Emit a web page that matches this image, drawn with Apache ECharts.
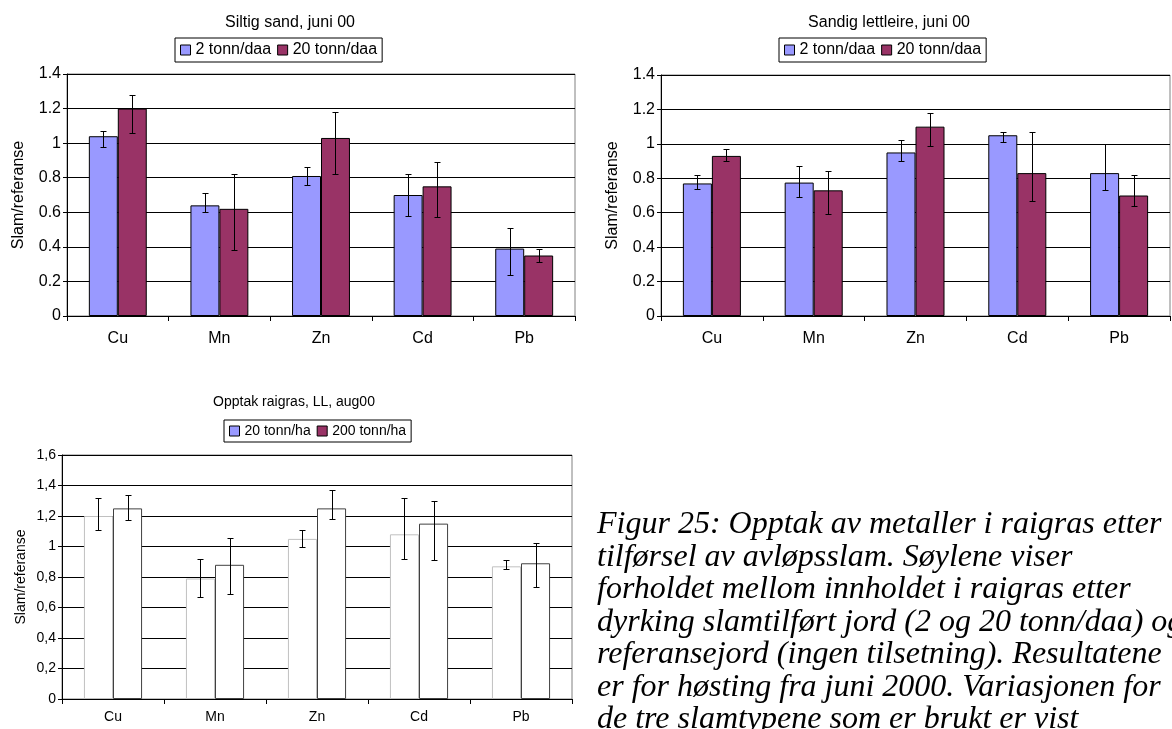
<!DOCTYPE html>
<html><head><meta charset="utf-8">
<script src="https://cdn.jsdelivr.net/npm/echarts/dist/echarts.min.js"></script>
<style>html,body{margin:0;padding:0;background:#fff}#c{width:1172px;height:729px}</style>
</head><body><div id="c"></div><script>
// ---------- data ----------
const categories = ['Cu', 'Mn', 'Zn', 'Cd', 'Pb'];

// Siltig sand, juni 00
const siltNames = ['2 tonn/daa', '20 tonn/daa'];
const silt2 = [1.04, 0.64, 0.81, 0.70, 0.39];
const silt2Lo = [0.98, 0.60, 0.76, 0.58, 0.24];
const silt2Hi = [1.07, 0.71, 0.86, 0.82, 0.51];
const silt20 = [1.20, 0.62, 1.03, 0.75, 0.35];
const silt20Lo = [1.06, 0.38, 0.82, 0.57, 0.31];
const silt20Hi = [1.28, 0.82, 1.18, 0.89, 0.39];

// Sandig lettleire, juni 00
const sand2 = [0.77, 0.775, 0.95, 1.05, 0.83];
const sand2Lo = [0.74, 0.69, 0.90, 1.01, 0.73];
const sand2Hi = [0.82, 0.87, 1.02, 1.07, 1.00];
const sand20 = [0.93, 0.73, 1.10, 0.83, 0.70];
const sand20Lo = [0.90, 0.59, 0.99, 0.67, 0.64];
const sand20Hi = [0.97, 0.84, 1.18, 1.07, 0.82];

// Opptak raigras, LL, aug00
const raiNames = ['20 tonn/ha', '200 tonn/ha'];
const rai20 = [1.20, 0.79, 1.05, 1.08, 0.87];
const rai20Lo = [1.11, 0.67, 1.00, 0.92, 0.85];
const rai20Hi = [1.32, 0.92, 1.11, 1.32, 0.91];
const rai200 = [1.25, 0.88, 1.25, 1.15, 0.89];
const rai200Lo = [1.175, 0.69, 1.18, 0.91, 0.735];
const rai200Hi = [1.34, 1.055, 1.37, 1.30, 1.02];

const titles = ['Siltig sand, juni 00', 'Sandig lettleire, juni 00', 'Opptak raigras, LL, aug00'];
const yName = 'Slam/referanse';
const captionLines = [
  'Figur 25: Opptak av metaller i raigras etter',
  'tilførsel av avløpsslam. Søylene viser',
  'forholdet mellom innholdet i raigras etter',
  'dyrking slamtilført jord (2 og 20 tonn/daa) og',
  'referansejord (ingen tilsetning). Resultatene',
  'er for høsting fra juni 2000. Variasjonen for',
  'de tre slamtypene som er brukt er vist'
];

// ---------- styling ----------
const FONT = '"Liberation Sans", Arial, sans-serif';
const BLUE = '#9999FF', RED = '#993366';
const GAP = 0.43;

function errSeries(idx, lo, hi, side) {
  return {
    type: 'custom', xAxisIndex: idx, yAxisIndex: idx, z: 5, silent: true,
    data: categories.map((c, i) => [i, lo[i], hi[i]]),
    encode: { x: 0, y: [1, 2] },
    renderItem: function (params, api) {
      const i = api.value(0);
      const pLo = api.coord([i, api.value(1)]);
      const pHi = api.coord([i, api.value(2)]);
      const cw = api.size([1, 0])[0];
      const bw = cw * (1 - GAP) / 2;
      const x = Math.round(pLo[0] + side * bw / 2) + 0.5;
      const y1 = Math.round(pHi[1]) + 0.5, y2 = Math.round(pLo[1]) + 0.5;
      const st = { stroke: '#000', lineWidth: 1 };
      const cap = 3;
      return { type: 'group', children: [
        { type: 'line', shape: { x1: x, y1: y1, x2: x, y2: y2 }, style: st },
        { type: 'line', shape: { x1: x - cap, y1: y1, x2: x + cap, y2: y1 }, style: st },
        { type: 'line', shape: { x1: x - cap, y1: y2, x2: x + cap, y2: y2 }, style: st }
      ] };
    }
  };
}

function barSeries(idx, name, data, color, border) {
  return {
    type: 'bar', name: name, xAxisIndex: idx, yAxisIndex: idx, data: data,
    barGap: '0%', barCategoryGap: (GAP * 100) + '%',
    itemStyle: { color: color, borderColor: border, borderWidth: 1 },
    emphasis: { disabled: true }
  };
}

function xAxis(idx, fs, margin) {
  return {
    type: 'category', gridIndex: idx, data: categories,
    axisLine: { lineStyle: { color: '#000', width: 1 } },
    axisTick: { show: true, length: 5, lineStyle: { color: '#000' } },
    axisLabel: { color: '#000', fontSize: fs, fontFamily: FONT, margin: margin },
    splitLine: { show: false }
  };
}
function yAxis(idx, max, fs, gap, comma) {
  return {
    type: 'value', gridIndex: idx, min: 0, max: max, interval: 0.2,
    name: yName, nameLocation: 'middle', nameRotate: 90, nameGap: gap,
    nameTextStyle: { color: '#000', fontSize: fs, fontFamily: FONT },
    axisLine: { show: true, lineStyle: { color: '#000', width: 1 } },
    axisTick: { show: true, length: 4, lineStyle: { color: '#000' } },
    axisLabel: { color: '#000', fontSize: fs, fontFamily: FONT, margin: 6,
      formatter: v => { const s = String(Math.round(v * 10) / 10); return comma ? s.replace('.', ',') : s; } },
    splitLine: { show: true, lineStyle: { color: '#000', width: 1 } }
  };
}

const legendBase = {
  orient: 'horizontal', icon: 'rect', itemWidth: 10, itemHeight: 10, itemGap: 6,
  borderColor: '#000', borderWidth: 1, padding: [4, 5], selectedMode: false,
  itemStyle: { borderColor: '#000', borderWidth: 1 }
};

const option = {
  backgroundColor: '#fff',
  animation: false,
  title: [
    { text: titles[0], left: 285, top: 10, textAlign: 'center', textStyle: { fontSize: 16, fontWeight: 'normal', color: '#000', fontFamily: FONT } },
    { text: titles[1], left: 884, top: 10, textAlign: 'center', textStyle: { fontSize: 16, fontWeight: 'normal', color: '#000', fontFamily: FONT } },
    { text: titles[2], left: 289, top: 390, textAlign: 'center', textStyle: { fontSize: 14, fontWeight: 'normal', color: '#000', fontFamily: FONT } }
  ],
  legend: [
    Object.assign({}, legendBase, { left: 175, top: 38, data: siltNames, textStyle: { fontSize: 16, color: '#000', fontFamily: FONT } }),
    Object.assign({}, legendBase, { left: 779, top: 38, data: siltNames, textStyle: { fontSize: 16, color: '#000', fontFamily: FONT } }),
    Object.assign({}, legendBase, { left: 224, top: 420,
      data: [{ name: raiNames[0], itemStyle: { color: BLUE, borderColor: '#000', borderWidth: 1 } },
             { name: raiNames[1], itemStyle: { color: RED, borderColor: '#000', borderWidth: 1 } }],
      textStyle: { fontSize: 14, color: '#000', fontFamily: FONT } })
  ],
  grid: [
    { left: 67, top: 74, width: 508, height: 242, show: true, borderColor: '#808080', borderWidth: 1, backgroundColor: 'transparent' },
    { left: 661, top: 75, width: 509, height: 241, show: true, borderColor: '#808080', borderWidth: 1, backgroundColor: 'transparent' },
    { left: 62, top: 455, width: 510, height: 244, show: true, borderColor: '#808080', borderWidth: 1, backgroundColor: 'transparent' }
  ],
  xAxis: [xAxis(0, 16, 15), xAxis(1, 16, 15), xAxis(2, 14, 11)],
  yAxis: [yAxis(0, 1.4, 16, 40, false), yAxis(1, 1.4, 16, 40, false), yAxis(2, 1.6, 14, 34, true)],
  series: [
    barSeries(0, siltNames[0], silt2, BLUE, '#000'),
    barSeries(0, siltNames[1], silt20, RED, '#000'),
    errSeries(0, silt2Lo, silt2Hi, -1),
    errSeries(0, silt20Lo, silt20Hi, 1),
    barSeries(1, siltNames[0], sand2, BLUE, '#000'),
    barSeries(1, siltNames[1], sand20, RED, '#000'),
    errSeries(1, sand2Lo, sand2Hi, -1),
    errSeries(1, sand20Lo, sand20Hi, 1),
    barSeries(2, raiNames[0], rai20, '#fff', '#c0c0c0'),
    barSeries(2, raiNames[1], rai200, '#fff', '#404040'),
    errSeries(2, rai20Lo, rai20Hi, -1),
    errSeries(2, rai200Lo, rai200Hi, 1)
  ],
  graphic: captionLines.map((t, i) => ({
    type: 'text', left: 597, top: 509 + i * 32.5, silent: true,
    style: { text: t, font: 'italic 32px "Liberation Serif", "Times New Roman", serif', fill: '#000' }
  }))
};

const chart = echarts.init(document.getElementById('c'), null, { renderer: 'canvas' });
chart.setOption(option);
</script></body></html>
